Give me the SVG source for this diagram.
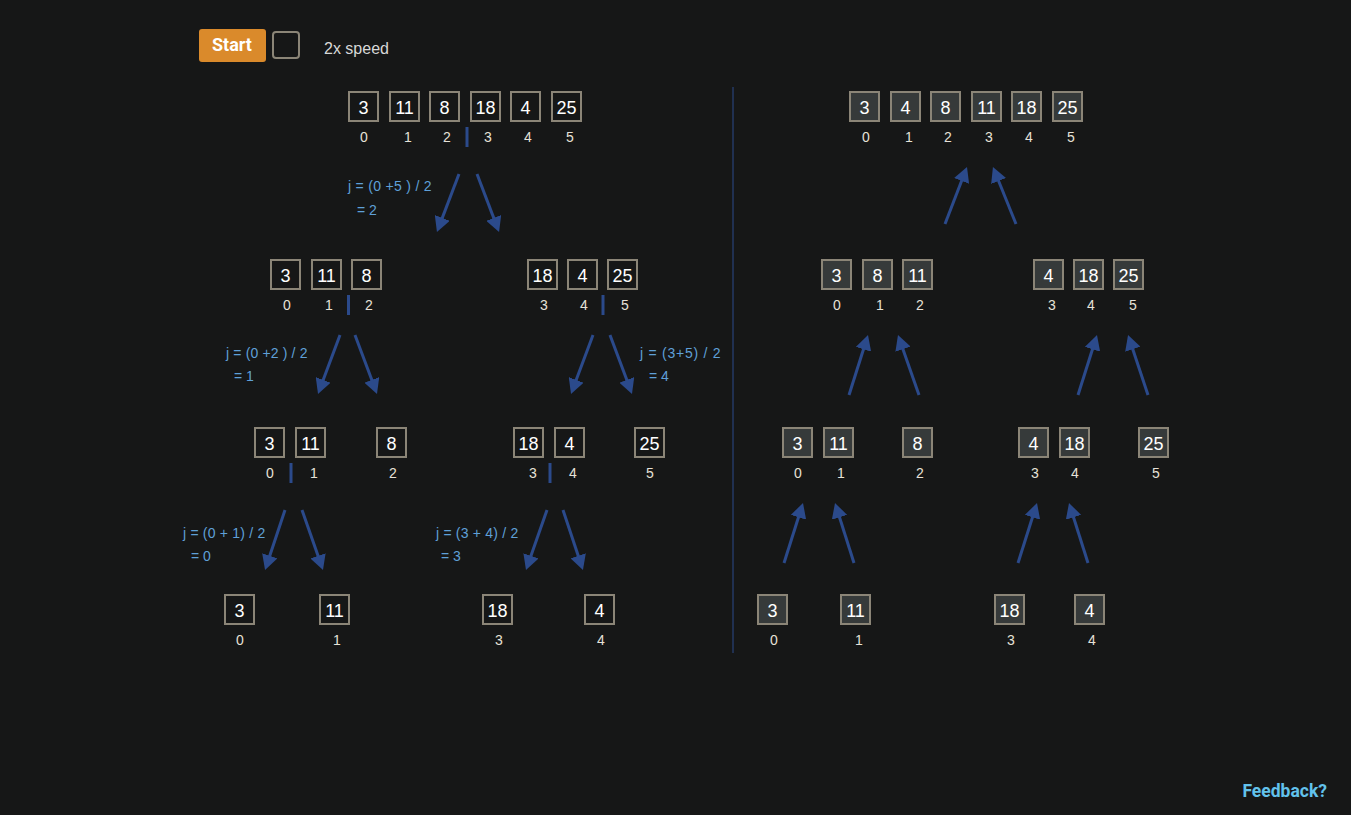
<svg xmlns="http://www.w3.org/2000/svg" width="1351" height="815" viewBox="0 0 1351 815">
<defs>
<style>
.bx{fill:none;stroke:#8b8577;stroke-width:2}
.bxs{fill:#363a3a;stroke:#8b8577;stroke-width:2}
.v{font-family:"Liberation Sans",Arial,sans-serif;font-size:18px;fill:#ffffff;text-anchor:middle}
.i{font-family:"Liberation Sans",Arial,sans-serif;font-size:14px;fill:#e6e2d8;text-anchor:middle}
.f{font-family:"Liberation Sans",Arial,sans-serif;font-size:14px;fill:#5fa0d8}
.sep{stroke:#2b4a8b;stroke-width:3}
.ar{stroke:#2b4a8b;stroke-width:3;fill:none;marker-end:url(#ah)}
</style>
<marker id="ah" markerWidth="15" markerHeight="16" refX="5" refY="8" orient="auto" markerUnits="userSpaceOnUse">
<path d="M0,0 L15,8 L0,16 Z" fill="#2b4a8b"/>
</marker>
</defs>
<rect width="1351" height="815" fill="#161717"/>

<g id="controls">
<rect x="199" y="29" width="67" height="33" rx="3" fill="#da8a2b"/>
<text x="232" y="51" font-family="Roboto,'Liberation Sans',sans-serif" font-weight="bold" font-size="18" fill="#ffffff" text-anchor="middle">Start</text>
<rect x="273" y="32" width="26" height="26" rx="3" fill="none" stroke="#8b8577" stroke-width="2"/>
<text x="324" y="54" font-family="'Liberation Sans',Arial,sans-serif" font-size="16" fill="#d8d8d8">2x speed</text>
</g>

<line id="divider" x1="733" y1="87" x2="733" y2="653" stroke="#2b4a8b" stroke-width="1"/>

<!-- split side -->
<g id="split-0-5">
<rect class="bx" x="349" y="92" width="29" height="29"/><rect class="bx" x="390" y="92" width="29" height="29"/><rect class="bx" x="430" y="92" width="29" height="29"/><rect class="bx" x="471" y="92" width="29" height="29"/><rect class="bx" x="511" y="92" width="29" height="29"/><rect class="bx" x="552" y="92" width="29" height="29"/>
<text class="v" x="363.5" y="114">3</text><text class="v" x="404.5" y="114">11</text><text class="v" x="444.5" y="114">8</text><text class="v" x="485.5" y="114">18</text><text class="v" x="525.5" y="114">4</text><text class="v" x="566.5" y="114">25</text>
<text class="i" x="364" y="142">0</text><text class="i" x="408" y="142">1</text><text class="i" x="447" y="142">2</text><text class="i" x="488" y="142">3</text><text class="i" x="528" y="142">4</text><text class="i" x="570" y="142">5</text>
<line class="sep" x1="467" y1="127" x2="467" y2="147"/>
<text class="f" x="348" y="191" letter-spacing="0.3">j = (0 +5 ) / 2</text><text class="f" x="357" y="215">= 2</text>
</g>

<g id="split-0-2">
<rect class="bx" x="271" y="260" width="29" height="29"/><rect class="bx" x="312" y="260" width="29" height="29"/><rect class="bx" x="352" y="260" width="29" height="29"/>
<text class="v" x="285.5" y="282">3</text><text class="v" x="326.5" y="282">11</text><text class="v" x="366.5" y="282">8</text>
<text class="i" x="287" y="310">0</text><text class="i" x="329" y="310">1</text><text class="i" x="369" y="310">2</text>
<line class="sep" x1="348.5" y1="295" x2="348.5" y2="315"/>
<text class="f" x="226" y="358" letter-spacing="0.15">j = (0 +2 ) / 2</text><text class="f" x="234" y="381">= 1</text>
</g>

<g id="split-3-5">
<rect class="bx" x="528" y="260" width="29" height="29"/><rect class="bx" x="568" y="260" width="29" height="29"/><rect class="bx" x="608" y="260" width="29" height="29"/>
<text class="v" x="542.5" y="282">18</text><text class="v" x="582.5" y="282">4</text><text class="v" x="622.5" y="282">25</text>
<text class="i" x="544" y="310">3</text><text class="i" x="584" y="310">4</text><text class="i" x="625" y="310">5</text>
<line class="sep" x1="603" y1="295" x2="603" y2="315"/>
<text class="f" x="640" y="358" letter-spacing="0.75">j = (3+5) / 2</text><text class="f" x="649" y="381">= 4</text>
</g>

<g id="split-0-1">
<rect class="bx" x="255" y="428" width="29" height="29"/><rect class="bx" x="296" y="428" width="29" height="29"/>
<text class="v" x="269.5" y="450">3</text><text class="v" x="310.5" y="450">11</text>
<text class="i" x="270" y="478">0</text><text class="i" x="314" y="478">1</text>
<line class="sep" x1="291" y1="463" x2="291" y2="483"/>
<text class="f" x="183" y="538" letter-spacing="0.2">j = (0 + 1) / 2</text><text class="f" x="191" y="561">= 0</text>
</g>

<g id="split-2">
<rect class="bx" x="377" y="428" width="29" height="29"/>
<text class="v" x="391.5" y="450">8</text>
<text class="i" x="393" y="478">2</text>
</g>

<g id="split-3-4">
<rect class="bx" x="514" y="428" width="29" height="29"/><rect class="bx" x="555" y="428" width="29" height="29"/>
<text class="v" x="528.5" y="450">18</text><text class="v" x="569.5" y="450">4</text>
<text class="i" x="533" y="478">3</text><text class="i" x="573" y="478">4</text>
<line class="sep" x1="550" y1="463" x2="550" y2="483"/>
<text class="f" x="436" y="538" letter-spacing="0.2">j = (3 + 4) / 2</text><text class="f" x="441" y="561">= 3</text>
</g>

<g id="split-5">
<rect class="bx" x="635" y="428" width="29" height="29"/>
<text class="v" x="649.5" y="450">25</text>
<text class="i" x="650" y="478">5</text>
</g>

<g id="split-leaf-0"><rect class="bx" x="225" y="595" width="29" height="29"/><text class="v" x="239.5" y="617">3</text><text class="i" x="240" y="645">0</text></g>
<g id="split-leaf-1"><rect class="bx" x="320" y="595" width="29" height="29"/><text class="v" x="334.5" y="617">11</text><text class="i" x="337" y="645">1</text></g>
<g id="split-leaf-3"><rect class="bx" x="483" y="595" width="29" height="29"/><text class="v" x="497.5" y="617">18</text><text class="i" x="499" y="645">3</text></g>
<g id="split-leaf-4"><rect class="bx" x="585" y="595" width="29" height="29"/><text class="v" x="599.5" y="617">4</text><text class="i" x="601" y="645">4</text></g>

<!-- merge side -->
<g id="merge-leaf-0"><rect class="bxs" x="758" y="595" width="29" height="29"/><text class="v" x="772.5" y="617">3</text><text class="i" x="774" y="645">0</text></g>
<g id="merge-leaf-1"><rect class="bxs" x="841" y="595" width="29" height="29"/><text class="v" x="855.5" y="617">11</text><text class="i" x="859" y="645">1</text></g>
<g id="merge-leaf-3"><rect class="bxs" x="995" y="595" width="29" height="29"/><text class="v" x="1009.5" y="617">18</text><text class="i" x="1011" y="645">3</text></g>
<g id="merge-leaf-4"><rect class="bxs" x="1075" y="595" width="29" height="29"/><text class="v" x="1089.5" y="617">4</text><text class="i" x="1092" y="645">4</text></g>

<g id="merge-0-1">
<rect class="bxs" x="783" y="428" width="29" height="29"/><rect class="bxs" x="824" y="428" width="29" height="29"/>
<text class="v" x="797.5" y="450">3</text><text class="v" x="838.5" y="450">11</text>
<text class="i" x="798" y="478">0</text><text class="i" x="841" y="478">1</text>
</g>
<g id="merge-2"><rect class="bxs" x="903" y="428" width="29" height="29"/><text class="v" x="917.5" y="450">8</text><text class="i" x="920" y="478">2</text></g>
<g id="merge-3-4">
<rect class="bxs" x="1019" y="428" width="29" height="29"/><rect class="bxs" x="1060" y="428" width="29" height="29"/>
<text class="v" x="1033.5" y="450">4</text><text class="v" x="1074.5" y="450">18</text>
<text class="i" x="1035" y="478">3</text><text class="i" x="1075" y="478">4</text>
</g>
<g id="merge-5"><rect class="bxs" x="1139" y="428" width="29" height="29"/><text class="v" x="1153.5" y="450">25</text><text class="i" x="1156" y="478">5</text></g>

<g id="merge-0-2">
<rect class="bxs" x="822" y="260" width="29" height="29"/><rect class="bxs" x="863" y="260" width="29" height="29"/><rect class="bxs" x="903" y="260" width="29" height="29"/>
<text class="v" x="836.5" y="282">3</text><text class="v" x="877.5" y="282">8</text><text class="v" x="917.5" y="282">11</text>
<text class="i" x="837" y="310">0</text><text class="i" x="880" y="310">1</text><text class="i" x="920" y="310">2</text>
</g>
<g id="merge-3-5">
<rect class="bxs" x="1034" y="260" width="29" height="29"/><rect class="bxs" x="1074" y="260" width="29" height="29"/><rect class="bxs" x="1114" y="260" width="29" height="29"/>
<text class="v" x="1048.5" y="282">4</text><text class="v" x="1088.5" y="282">18</text><text class="v" x="1128.5" y="282">25</text>
<text class="i" x="1052" y="310">3</text><text class="i" x="1091" y="310">4</text><text class="i" x="1133" y="310">5</text>
</g>

<g id="merge-0-5">
<rect class="bxs" x="850" y="92" width="29" height="29"/><rect class="bxs" x="891" y="92" width="29" height="29"/><rect class="bxs" x="931" y="92" width="29" height="29"/><rect class="bxs" x="972" y="92" width="29" height="29"/><rect class="bxs" x="1012" y="92" width="29" height="29"/><rect class="bxs" x="1053" y="92" width="29" height="29"/>
<text class="v" x="864.5" y="114">3</text><text class="v" x="905.5" y="114">4</text><text class="v" x="945.5" y="114">8</text><text class="v" x="986.5" y="114">11</text><text class="v" x="1026.5" y="114">18</text><text class="v" x="1067.5" y="114">25</text>
<text class="i" x="866" y="142">0</text><text class="i" x="909" y="142">1</text><text class="i" x="948" y="142">2</text><text class="i" x="989" y="142">3</text><text class="i" x="1029" y="142">4</text><text class="i" x="1071" y="142">5</text>
</g>

<g id="connectors">
<line class="ar" x1="459" y1="174" x2="440.5" y2="222.6"/>
<line class="ar" x1="477" y1="174" x2="495.5" y2="222.6"/>
<line class="ar" x1="340" y1="335" x2="321.5" y2="384.6"/>
<line class="ar" x1="355" y1="335" x2="373.5" y2="384.6"/>
<line class="ar" x1="593" y1="335" x2="574.5" y2="384.6"/>
<line class="ar" x1="610" y1="335" x2="628.5" y2="384.6"/>
<line class="ar" x1="285" y1="510" x2="268.2" y2="560.5"/>
<line class="ar" x1="302" y1="510" x2="319.7" y2="560.6"/>
<line class="ar" x1="547" y1="510" x2="529.3" y2="560.6"/>
<line class="ar" x1="563" y1="510" x2="579.8" y2="560.5"/>
<line class="ar" x1="945" y1="224" x2="963.4" y2="176.3"/>
<line class="ar" x1="1016" y1="224" x2="996.7" y2="176.3"/>
<line class="ar" x1="849" y1="395" x2="865" y2="344.5"/>
<line class="ar" x1="919" y1="395" x2="901.3" y2="344.4"/>
<line class="ar" x1="1078" y1="395" x2="1094" y2="344.5"/>
<line class="ar" x1="1148" y1="395" x2="1131.2" y2="344.5"/>
<line class="ar" x1="784" y1="563" x2="800" y2="512.5"/>
<line class="ar" x1="854" y1="563" x2="838" y2="512.5"/>
<line class="ar" x1="1018" y1="563" x2="1034" y2="512.5"/>
<line class="ar" x1="1088" y1="563" x2="1072" y2="512.5"/>
</g>

<g id="feedback">
<text x="1327" y="797" font-family="Roboto,'Liberation Sans',sans-serif" font-weight="bold" font-size="17.5" fill="#62c2ec" text-anchor="end">Feedback?</text>
</g>
</svg>
